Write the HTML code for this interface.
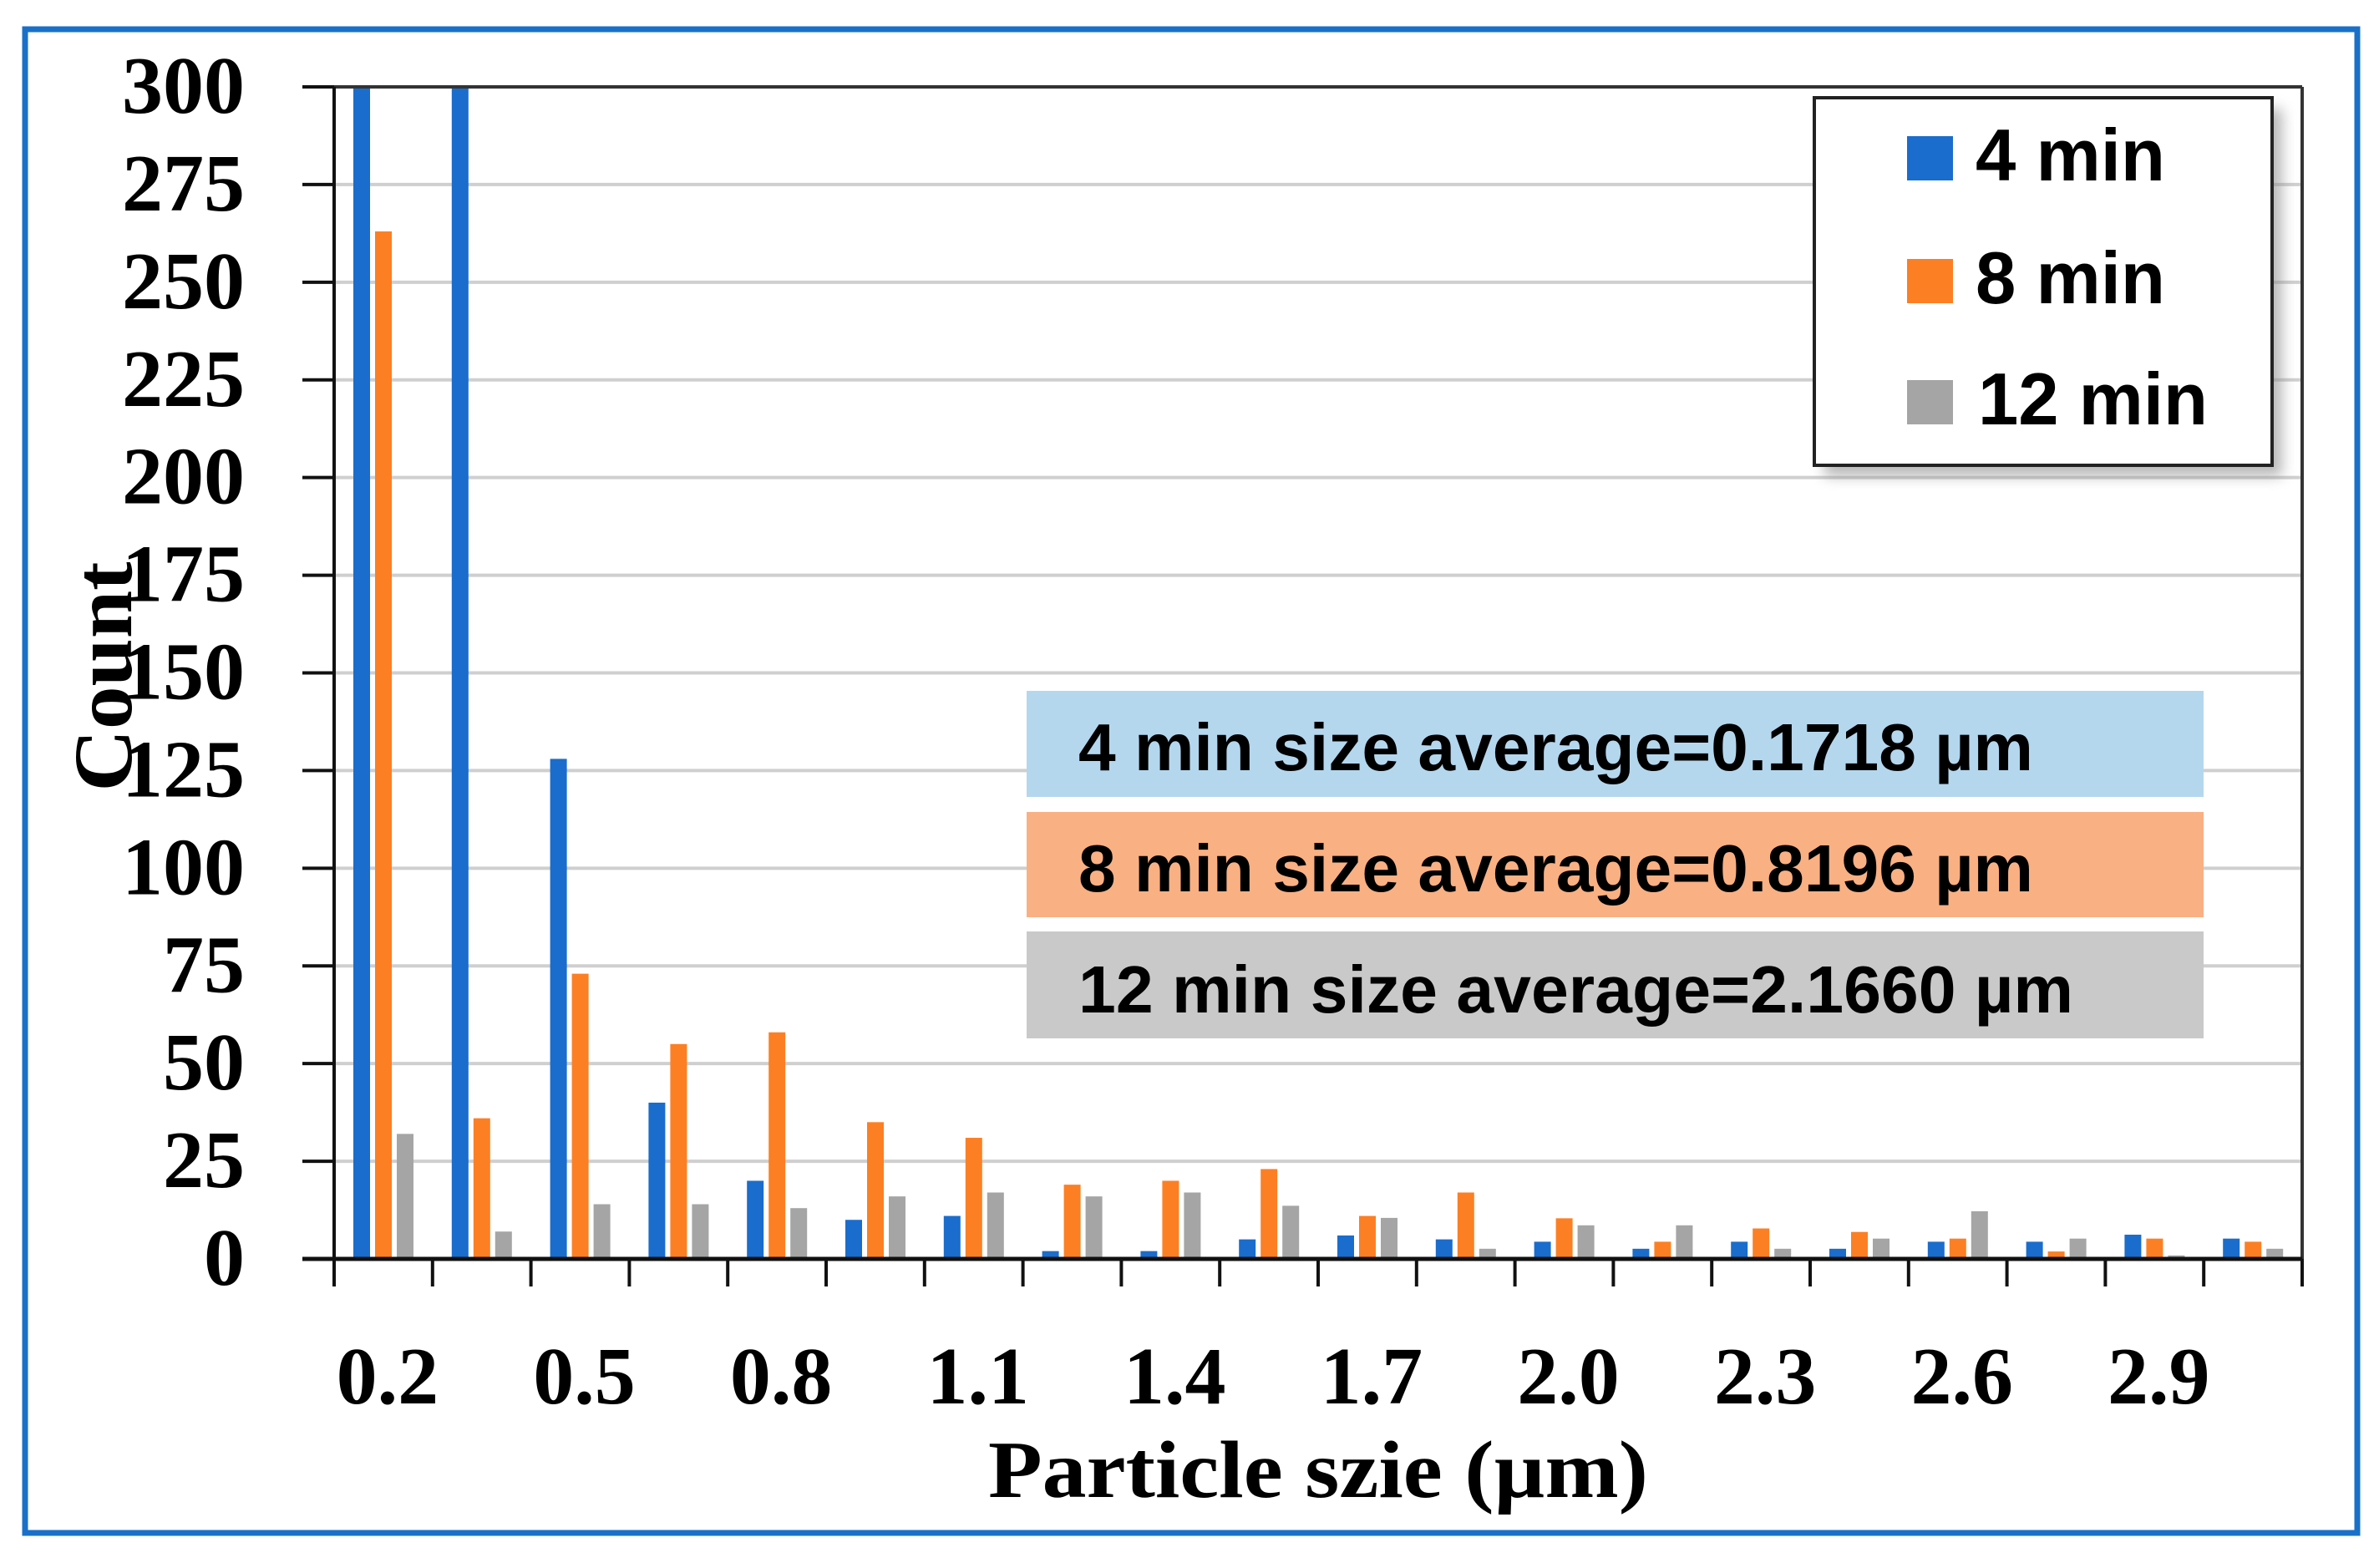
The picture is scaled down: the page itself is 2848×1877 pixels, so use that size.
<!DOCTYPE html>
<html><head><meta charset="utf-8"><style>
html,body{margin:0;padding:0;background:#fff;}
svg{display:block;}
</style></head><body>
<svg id="chart" width="2848" height="1877" viewBox="0 0 2848 1877" xmlns="http://www.w3.org/2000/svg">
<defs>
<filter id="sh" x="-10%" y="-10%" width="130%" height="130%"><feGaussianBlur stdDeviation="8"/></filter>
</defs>
<rect x="30" y="35" width="2792" height="1800" fill="#fff" stroke="#1a70c8" stroke-width="7"/>
<g id="grid"></g>
<g id="bars"></g>
<g id="axes"></g>
<text transform="translate(157,810) rotate(-90)" text-anchor="middle" font-family="Liberation Serif, serif" font-weight="bold" font-size="100" textLength="275" lengthAdjust="spacingAndGlyphs">Count</text>
<text x="1578" y="1792" text-anchor="middle" font-family="Liberation Serif, serif" font-weight="bold" font-size="98" textLength="790" lengthAdjust="spacingAndGlyphs">Particle szie (µm)</text>
<g>
<rect x="1229" y="827" width="1409" height="127" fill="#b4d7ee"/>
<text x="1291" y="922" font-family="Liberation Sans, sans-serif" font-weight="bold" font-size="80" textLength="1143" lengthAdjust="spacingAndGlyphs">4 min size average=0.1718 µm</text>
</g>
<g>
<rect x="1229" y="972" width="1409" height="126" fill="#f9b083"/>
<text x="1291" y="1067" font-family="Liberation Sans, sans-serif" font-weight="bold" font-size="80" textLength="1143" lengthAdjust="spacingAndGlyphs">8 min size average=0.8196 µm</text>
</g>
<g>
<rect x="1229" y="1115" width="1409" height="128" fill="#c9c9c9"/>
<text x="1291" y="1212" font-family="Liberation Sans, sans-serif" font-weight="bold" font-size="80" textLength="1191" lengthAdjust="spacingAndGlyphs">12 min size average=2.1660 µm</text>
</g>
<g>
<rect x="2184" y="130" width="548" height="440" fill="#888" opacity="0.6" filter="url(#sh)"/>
<rect x="2172" y="117" width="548" height="440" fill="#fff" stroke="#222" stroke-width="4"/>
<g>
<rect x="2283" y="163" width="55" height="53" fill="#1a6dcc"/>
<text x="2365" y="216" font-family="Liberation Sans, sans-serif" font-weight="bold" font-size="88" textLength="227" lengthAdjust="spacingAndGlyphs">4 min</text>
</g>
<g>
<rect x="2283" y="310" width="55" height="53" fill="#fd7f23"/>
<text x="2365" y="363" font-family="Liberation Sans, sans-serif" font-weight="bold" font-size="88" textLength="227" lengthAdjust="spacingAndGlyphs">8 min</text>
</g>
<g>
<rect x="2283" y="455" width="55" height="53" fill="#a5a5a5"/>
<text x="2368" y="508" font-family="Liberation Sans, sans-serif" font-weight="bold" font-size="88" textLength="275" lengthAdjust="spacingAndGlyphs">12 min</text>
</g>
</g>
</svg>
<script>
const categories = ["0.2","0.35","0.5","0.65","0.8","0.95","1.1","1.25","1.4","1.55","1.7","1.85","2.0","2.15","2.3","2.45","2.6","2.75","2.9","3.05"];
const series4 = [300,300,128,40,20,10,11,2,2,5,6,5,4.4,2.6,4.4,2.6,4.4,4.4,6.2,5.2];
const series8 = [263,36,73,55,58,35,31,19,20,23,11,17,10.4,4.4,7.8,6.9,5.2,1.9,5.2,4.4];
const series12 = [32,7,14,14,13,16,17,16,17,13.6,10.5,2.6,8.6,8.6,2.6,5.2,12.2,5.2,0.9,2.6];
const yTicks = [0,25,50,75,100,125,150,175,200,225,250,275,300];
const xLabelEvery = 2;

const NS = "http://www.w3.org/2000/svg";
const X0 = 400, X1 = 2756, Y0 = 1507, YTOP = 104, YMAX = 300;
const catW = (X1 - X0) / categories.length;
function yScale(v){ return Y0 - Math.min(v, YMAX) / YMAX * (Y0 - YTOP); }
function xCat(i){ return X0 + i * catW; }
function mk(tag, attrs, parent){ const e = document.createElementNS(NS, tag); for (const k in attrs) e.setAttribute(k, attrs[k]); parent.appendChild(e); return e; }

const gridG = document.getElementById('grid');
const axesG = document.getElementById('axes');
const barsG = document.getElementById('bars');

yTicks.forEach(t => {
  if (t > 0 && t < YMAX) {
    const g = mk('line', {x1: X0, x2: X1, y1: yScale(t), y2: yScale(t), stroke: '#cfcfcf', 'stroke-width': 4}, gridG);
    
    
  }
  const tk = mk('line', {x1: 362, x2: X0, y1: yScale(t), y2: yScale(t), stroke: '#111', 'stroke-width': 4}, axesG);
  
  
  const lb = mk('text', {x: 293, y: yScale(t) + 31, 'text-anchor': 'end', 'font-family': 'Liberation Serif, serif', 'font-weight': 'bold', 'font-size': 98}, axesG);
  lb.textContent = t;
  
  
});

const seriesList = [[series4, '#1a6dcc', 23, '4min'], [series8, '#fd7f23', 49, '8min'], [series12, '#a5a5a5', 75, '12min']];
categories.forEach((c, i) => {
  seriesList.forEach(s => {
    const v = s[0][i];
    const r = mk('rect', {x: xCat(i) + s[2], y: yScale(v), width: 20, height: Y0 - yScale(v), fill: s[1]}, barsG);
    
    
  });
});

const plotTop = mk('line', {x1: X0, x2: X1, y1: YTOP, y2: YTOP, stroke: '#333', 'stroke-width': 4}, axesG);


const plotRight = mk('line', {x1: X1, x2: X1, y1: YTOP, y2: 1540, stroke: '#333', 'stroke-width': 4}, axesG);


const yAxisLine = mk('line', {x1: X0, x2: X0, y1: YTOP, y2: 1540, stroke: '#111', 'stroke-width': 4}, axesG);


const xAxisLine = mk('line', {x1: 362, x2: X1, y1: Y0, y2: Y0, stroke: '#111', 'stroke-width': 5}, axesG);



for (let i = 0; i <= categories.length; i++) {
  const t = mk('line', {x1: xCat(i), x2: xCat(i), y1: Y0, y2: 1540, stroke: '#111', 'stroke-width': 4}, axesG);
  
  
}
categories.forEach((c, i) => {
  if (i % xLabelEvery !== 0) return;
  const lb = mk('text', {x: xCat(i) + catW / 2 + 5, y: 1680, 'text-anchor': 'middle', 'font-family': 'Liberation Serif, serif', 'font-weight': 'bold', 'font-size': 98}, axesG);
  lb.textContent = c;
  
  
});
</script>
</body></html>
